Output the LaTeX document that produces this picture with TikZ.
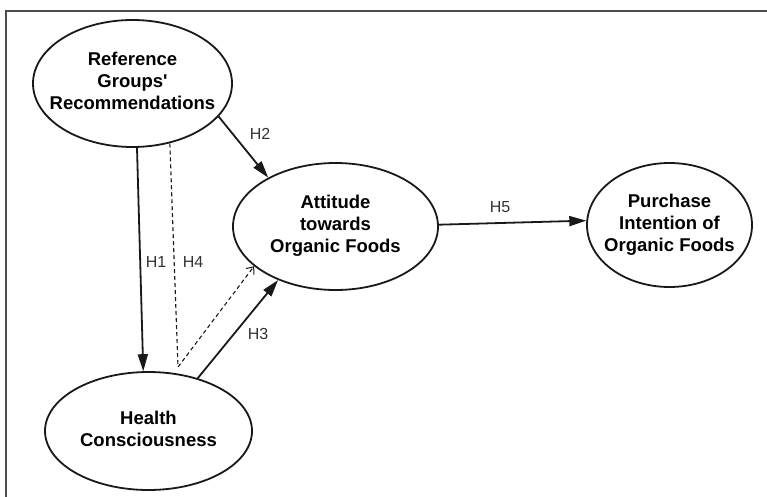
\documentclass[tikz,border=0pt]{standalone}
\usepackage{fontspec}
\setmainfont{Liberation Sans}
\usetikzlibrary{shapes.geometric,arrows.meta}
\newcommand{\ctext}[1]{\makebox[0pt]{\begin{tabular}{@{}c@{}}#1\end{tabular}}}
\begin{document}
\begin{tikzpicture}[x=1pt,y=-1pt,
  latent/.style={draw=black!90, line width=1.8pt, ellipse, inner sep=0pt, fill=white,
    font=\bfseries\fontsize{18.5}{22}\selectfont},
  pathsolid/.style={line width=1.8pt, draw=black!90, -{Triangle[length=17pt,width=10pt]}},
  pathdash/.style={line width=1.1pt, draw=black!90, dash pattern=on 4pt off 3pt,
    -{Straight Barb[length=6pt,width=10pt,line width=1pt]}},
  hyp/.style={text=black!80, font=\fontsize{16}{19}\selectfont, inner sep=0pt},
  framestyle/.style={draw=black!70, line width=1.5pt}
]
\path[use as bounding box] (0,0) rectangle (767,497);
\draw[framestyle] (6,497) -- (6,11) -- (767,11);

\node[latent, minimum width=199pt, minimum height=127pt] (rgr) at (132.5,83.5)
  {\ctext{Reference\\Groups\textquotesingle\\Recommendations}};
\node[latent, minimum width=205pt, minimum height=127pt] (att) at (335.5,226.5)
  {\ctext{Attitude\\towards\\Organic Foods}};
\node[latent, minimum width=165pt, minimum height=124pt] (pi) at (669.5,225)
  {\ctext{Purchase\\Intention of\\Organic Foods}};
\node[latent, minimum width=207pt, minimum height=118pt] (hc) at (148.5,431)
  {\ctext{Health\\Consciousness}};

\coordinate (h4c) at (178,367);

\draw[pathsolid] (rgr.-86) -- (hc.95);
\draw[pathsolid] (rgr.-21.5) -- (att.144.3);
\draw[pathsolid] (hc.47.5) -- (att.-137.6);
\draw[pathdash] (rgr.-58.6) -- (h4c) -- (att.206.7);
\draw[pathsolid] (att.1.4) -- (pi.177);

\node[hyp] (l1) at (156,262) {H1};
\node[hyp] (l2) at (260,134) {H2};
\node[hyp] (l3) at (258,334) {H3};
\node[hyp] (l4) at (193,262) {H4};
\node[hyp] (l5) at (500,207) {H5};
\end{tikzpicture}
\end{document}
